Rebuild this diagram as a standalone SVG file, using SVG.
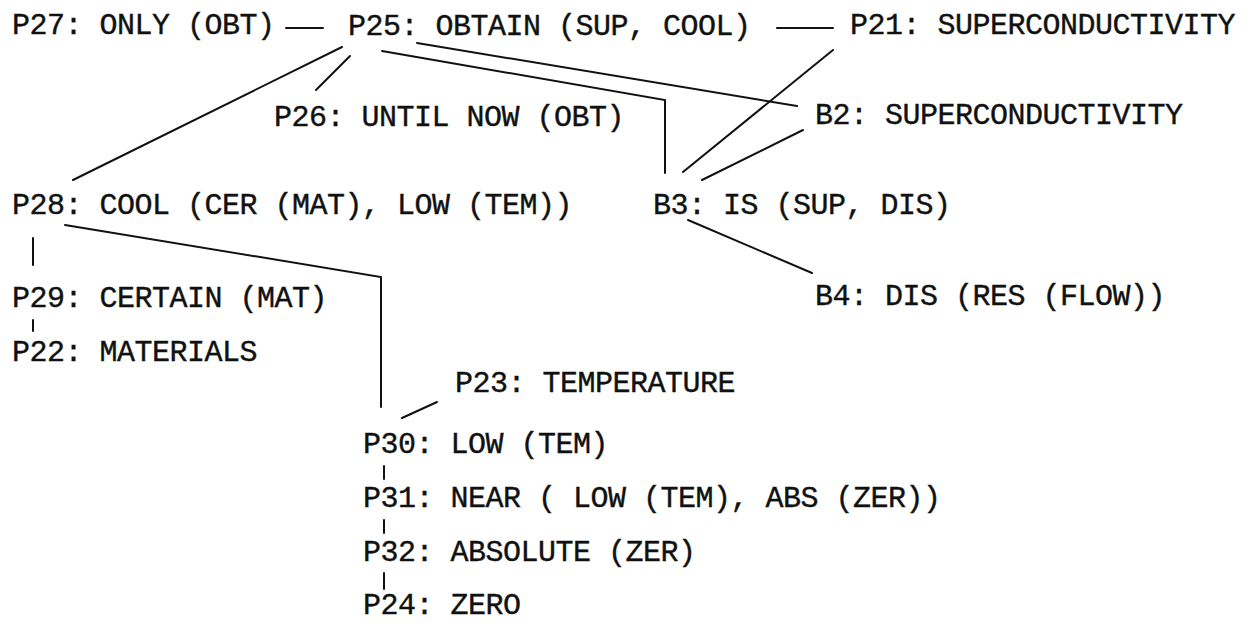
<svg xmlns="http://www.w3.org/2000/svg" width="1250" height="628" viewBox="0 0 1250 628">
<style>
text{font-family:"Liberation Mono","DejaVu Sans Mono",monospace;font-size:30px;letter-spacing:-0.5px;fill:#111;stroke:#111;stroke-width:0.4px;white-space:pre}
.c line,.c polyline{stroke:#111;stroke-width:2;fill:none;stroke-linecap:round}
</style>
<rect width="1250" height="628" fill="#fff"/>
<g class="c" id="connectors">
<line x1="286" y1="28" x2="323" y2="28"/>
<line x1="777" y1="28" x2="833" y2="28"/>
<line x1="342" y1="47" x2="73" y2="180"/>
<line x1="350" y1="56" x2="316" y2="90"/>
<polyline points="382,51 665,100 665,173"/>
<line x1="417" y1="43" x2="797" y2="106" stroke-width="1.6"/>
<line x1="833" y1="50" x2="683" y2="172" stroke-width="1.6"/>
<line x1="803" y1="130" x2="702" y2="180"/>
<line x1="688" y1="220" x2="812" y2="273" stroke-width="1.6"/>
<polyline points="65,225 381,277 381,407"/>
<line x1="33" y1="238" x2="33" y2="265"/>
<line x1="33" y1="320" x2="33" y2="331"/>
<line x1="402" y1="418" x2="437" y2="402"/>
<line x1="384" y1="466" x2="384" y2="479"/>
<line x1="384" y1="520" x2="384" y2="533"/>
<line x1="384" y1="573" x2="384" y2="589"/>
</g>
<g id="P27"><text x="12" y="34">P27: ONLY (OBT)</text></g>
<g id="P25"><text x="348" y="35">P25: OBTAIN (SUP, COOL)</text></g>
<g id="P21"><text x="850" y="34">P21: SUPERCONDUCTIVITY</text></g>
<g id="P26"><text x="274" y="126">P26: UNTIL NOW (OBT)</text></g>
<g id="B2"><text x="815" y="124">B2: SUPERCONDUCTIVITY</text></g>
<g id="P28"><text x="12" y="214">P28: COOL (CER (MAT), LOW (TEM))</text></g>
<g id="B3"><text x="653" y="214">B3: IS (SUP, DIS)</text></g>
<g id="P29"><text x="12" y="307">P29: CERTAIN (MAT)</text></g>
<g id="B4"><text x="815" y="305">B4: DIS (RES (FLOW))</text></g>
<g id="P22"><text x="12" y="361">P22: MATERIALS</text></g>
<g id="P23"><text x="455" y="392">P23: TEMPERATURE</text></g>
<g id="P30"><text x="363" y="453">P30: LOW (TEM)</text></g>
<g id="P31"><text x="363" y="507">P31: NEAR ( LOW (TEM), ABS (ZER))</text></g>
<g id="P32"><text x="363" y="561">P32: ABSOLUTE (ZER)</text></g>
<g id="P24"><text x="363" y="614">P24: ZERO</text></g>
</svg>
